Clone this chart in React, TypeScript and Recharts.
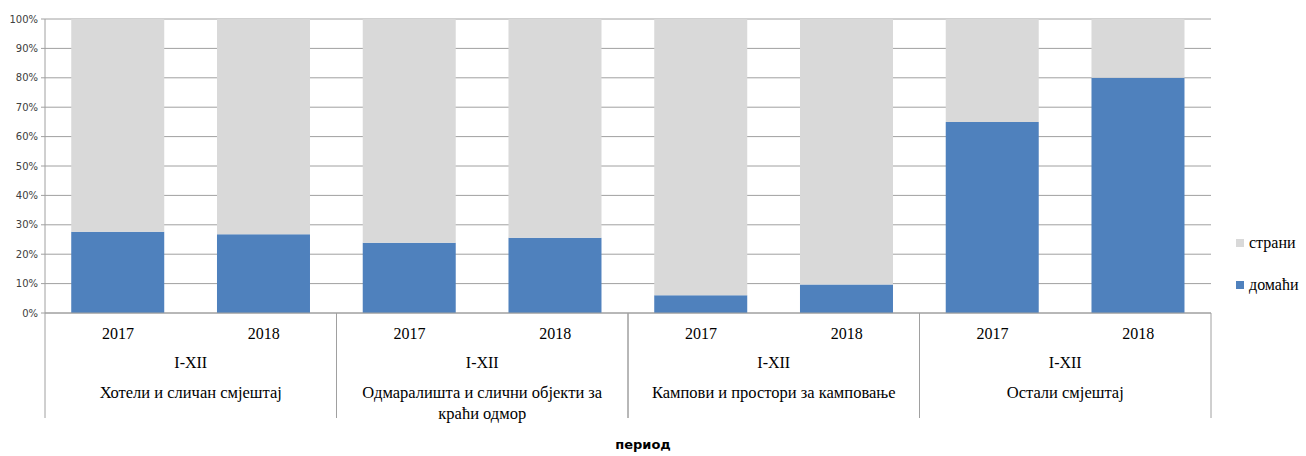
import { BarChart, Bar, XAxis, YAxis, CartesianGrid, Legend } from 'recharts'

const years = ['2017', '2018', '2017', '2018', '2017', '2018', '2017', '2018']
const categories = [
  'Хотели и сличан смјештај',
  'Одмаралишта и слични објекти за краћи одмор',
  'Кампови и простори за камповање',
  'Остали смјештај',
]
// how the category names break over lines under the axis
const categoryLines = [
  ['Хотели и сличан смјештај'],
  ['Одмаралишта и слични објекти за', 'краћи одмор'],
  ['Кампови и простори за камповање'],
  ['Остали смјештај'],
]
const groupOf = [0, 0, 1, 1, 2, 2, 3, 3]
const period = 'I-XII'
const domestic = [27.6, 26.8, 23.9, 25.6, 6.0, 9.7, 65.0, 80.0]
const foreign = [72.4, 73.2, 76.1, 74.4, 94.0, 90.3, 35.0, 20.0]
const yTicks = [0, 10, 20, 30, 40, 50, 60, 70, 80, 90, 100]

const data = years.map((year, i) => ({
  year,
  group: categories[groupOf[i]],
  domestic: domestic[i],
  foreign: foreign[i],
}))

const W = 1306
const H = 456
const MARGIN = { top: 19, right: 95, left: 0, bottom: 38 }
const Y_W = 45
const YEAR_H = 35
const GROUP_H = 70
const GW = (W - MARGIN.left - MARGIN.right - Y_W) / categories.length

const BLUE = '#4F81BD'
const GRAY = '#D9D9D9'
const LINE = '#A0A0A0'
const SERIF = '"Liberation Serif", serif'

function YearTick({ x, y, payload }: any) {
  return (
    <text x={x} y={y + 20} textAnchor="middle" dominantBaseline="central" fontFamily={SERIF} fontSize={16} fill="#000">
      {payload.value}
    </text>
  )
}

function GroupTick({ x, y, payload }: any) {
  const idx = categories.indexOf(payload.value)
  const lines = categoryLines[idx] || [payload.value]
  return (
    <g>
      <line x1={x - GW / 2} x2={x - GW / 2} y1={y - YEAR_H} y2={y + GROUP_H} stroke={LINE} />
      <line x1={x + GW / 2} x2={x + GW / 2} y1={y - YEAR_H} y2={y + GROUP_H} stroke={LINE} />
      <text x={x} y={y + 14} textAnchor="middle" dominantBaseline="central" fontFamily={SERIF} fontSize={16} fill="#000">
        {period}
      </text>
      {lines.map((l, i) => (
        <text key={i} x={x} y={y + 44 + i * 21} textAnchor="middle" dominantBaseline="central" fontFamily={SERIF} fontSize={16.5} fill="#000">
          {l}
        </text>
      ))}
    </g>
  )
}

function LegendBox() {
  const items = [
    { label: 'страни', color: GRAY },
    { label: 'домаћи', color: BLUE },
  ]
  return (
    <div style={{ fontFamily: SERIF, fontSize: 16 }}>
      {items.map((it) => (
        <div key={it.label} style={{ display: 'flex', alignItems: 'center', height: 42 }}>
          <span style={{ width: 8, height: 8, background: it.color, marginRight: 5 }} />
          <span>{it.label}</span>
        </div>
      ))}
    </div>
  )
}

export default function App() {
  return (
    <div style={{ position: 'fixed', left: 0, top: 0, width: W, height: H, background: '#fff' }}>
      <BarChart width={W} height={H} data={data} margin={MARGIN} barCategoryGap="18%">
        <CartesianGrid vertical={false} stroke={LINE} />
        <YAxis
          width={Y_W}
          domain={[0, 100]}
          ticks={yTicks}
          tickFormatter={(v) => `${v}%`}
          interval={0}
          axisLine={{ stroke: LINE }}
          tickLine={{ stroke: LINE }}
          tickSize={4}
          tickMargin={3}
          tick={{ fontFamily: '"DejaVu Sans", sans-serif', fontSize: 10, fill: '#404040' }}
        />
        <XAxis
          dataKey="year"
          height={YEAR_H}
          interval={0}
          tickSize={0}
          tickMargin={0}
          tickLine={false}
          axisLine={{ stroke: LINE }}
          tick={<YearTick />}
        />
        <XAxis
          xAxisId="grp"
          dataKey="group"
          allowDuplicatedCategory={false}
          height={GROUP_H}
          interval={0}
          tickSize={0}
          tickMargin={0}
          tickLine={false}
          axisLine={false}
          tick={<GroupTick />}
          label={{
            value: 'период',
            position: 'bottom',
            offset: 22,
            dx: 15,
            style: { fontFamily: '"DejaVu Sans", sans-serif', fontSize: 13, fontWeight: 'bold', fill: '#000' },
          }}
        />
        <Legend
          layout="horizontal"
          verticalAlign="middle"
          content={<LegendBox />}
          wrapperStyle={{ left: 1236, top: 222, width: 70 }}
        />
        <Bar dataKey="domestic" name="домаћи" stackId="a" fill={BLUE} isAnimationActive={false} />
        <Bar dataKey="foreign" name="страни" stackId="a" fill={GRAY} isAnimationActive={false} />
      </BarChart>
    </div>
  )
}
